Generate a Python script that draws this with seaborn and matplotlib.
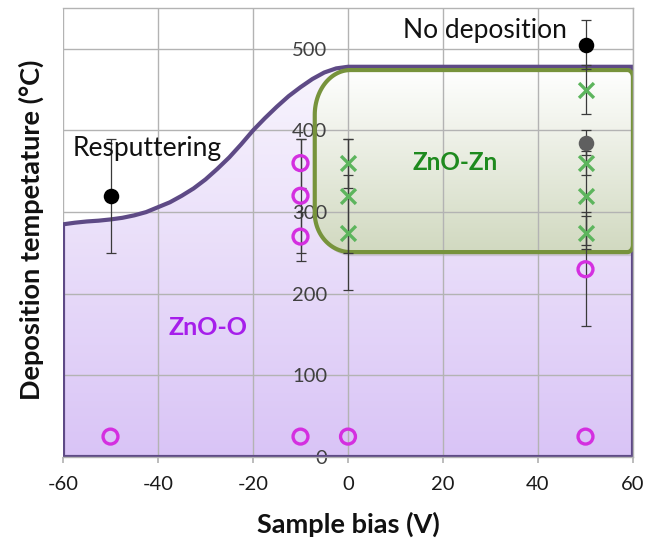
import numpy as np
import matplotlib
matplotlib.use("Agg")
import matplotlib.pyplot as plt
import seaborn as sns
from matplotlib.path import Path
from matplotlib.patches import PathPatch
from matplotlib.colors import LinearSegmentedColormap

# ── Data ─────────────────────────────────────────────────────────────
x_ticks = [-60, -40, -20, 0, 20, 40, 60]
y_ticks = [0, 100, 200, 300, 400, 500]

# upper boundary of the ZnO-O region
curve_x = [-60, -57.5, -55, -52.5, -50, -47.5, -45, -42.5, -40, -37.5, -35,
           -32.5, -30, -27.5, -25, -22.5, -20, -17.5, -15, -12.5, -10, -7.5,
           -5, -2.5, 0, 60]
curve_y = [285, 287, 288.5, 289.5, 291, 293, 296, 300, 306, 312, 320,
           329, 340, 353, 367, 383, 400, 415, 429, 442, 453, 463,
           471, 476, 478, 478]

# ZnO-Zn box (left, right, bottom, top)
box_x = [-7, 60]
box_y = [251, 474]

# ZnO-O samples (open magenta circles)
circ_x = [-50, -10, 0, 50, -10, -10, -10, 50]
circ_y = [25, 25, 25, 25, 360, 320, 270, 230]

# ZnO-Zn samples (green crosses)
cross_x = [0, 0, 0, 50, 50, 50, 50]
cross_y = [360, 320, 275, 450, 360, 320, 275]

# resputtering / no deposition (black dots), grey dot
black_x = [-50, 50]
black_y = [320, 505]
grey_x = [50]
grey_y = [385]

# error bars
err_x = [-50, -10, -10, -10, 0, 0, 0, 50, 50, 50, 50, 50, 50, 50]
err_y = [320, 360, 320, 270, 360, 320, 275, 505, 450, 385, 360, 320, 275, 230]
err_e = [70, 30, 70, 30, 30, 70, 70, 30, 30, 15, 15, 60, 20, 70]

PURPLE = "#5E4A86"
OLIVE = "#77933C"
MAGENTA = "#D42FE0"
GREEN = "#5DB55D"
GRID = "#B3B3B3"

sns.set_theme(style="white")
plt.rcParams["font.family"] = ["Lato", "DejaVu Sans"]
plt.rcParams["axes.unicode_minus"] = False

fig = plt.figure(figsize=(6.49, 5.41), dpi=100)
ax = fig.add_axes([63 / 649, 84 / 541, 570 / 649, 449 / 541])

# ── ZnO-O region: gradient fill clipped to polygon ───────────────────
poly = [(-60, 0)] + list(zip(curve_x, curve_y)) + [(60, 0), (-60, 0)]
purple_patch = PathPatch(Path(poly, closed=True), facecolor="none",
                         edgecolor=PURPLE, lw=3, zorder=2, joinstyle="round")
ax.add_patch(purple_patch)
clip_p = PathPatch(Path(poly, closed=True), facecolor="none", edgecolor="none")
ax.add_patch(clip_p)
grad = np.linspace(0, 1, 256).reshape(-1, 1)
cm_p = LinearSegmentedColormap.from_list("p", ["#D9C4F6", "#F8F5FD"])
im = ax.imshow(grad, extent=[-60, 60, 0, 478], origin="lower", aspect="auto",
               cmap=cm_p, zorder=0.2)
im.set_clip_path(clip_p)


# ── ZnO-Zn rounded box ───────────────────────────────────────────────
def arc(cx, cy, rx, ry, a0, a1, n=30):
    t = np.linspace(np.radians(a0), np.radians(a1), n)
    return list(zip(cx + rx * np.cos(t), cy + ry * np.sin(t)))


x0, x1 = box_x
y0, y1 = box_y
rxl, ryt, ryb = 7.5, 55, 48
rxr, ryr = 1.2, 9
pts = []
pts += arc(x1 - rxr, y1 - ryr, rxr, ryr, 90, 0)
pts += arc(x1 - rxr, y0 + ryr, rxr, ryr, 0, -90)
pts += arc(x0 + rxl, y0 + ryb, rxl, ryb, 270, 180)
pts += arc(x0 + rxl, y1 - ryt, rxl, ryt, 180, 90)
pts.append(pts[0])
green_path = Path(pts, closed=True)

shadow = np.array(pts) + np.array([0.5, -5])
ax.add_patch(PathPatch(Path(shadow, closed=True), facecolor="#9A9A9A",
                       edgecolor="none", alpha=0.35, zorder=0.25))
clip_g = PathPatch(green_path, facecolor="none", edgecolor="none")
ax.add_patch(clip_g)
cm_g = LinearSegmentedColormap.from_list("g", ["#D1D9C0", "#FFFFFF"])
im2 = ax.imshow(grad, extent=[x0, x1, y0, y1], origin="lower", aspect="auto",
                cmap=cm_g, zorder=0.3)
im2.set_clip_path(clip_g)
ax.add_patch(PathPatch(green_path, facecolor="none", edgecolor=OLIVE, lw=3, zorder=2.1))

# ── error bars and markers ───────────────────────────────────────────
ax.errorbar(err_x, err_y, yerr=err_e, fmt="none", ecolor="#3A3A3A",
            elinewidth=0.9, capsize=3.5, capthick=0.9, zorder=3)

sns.scatterplot(x=circ_x, y=circ_y, marker="o", s=115, facecolor="none",
                edgecolor=MAGENTA, linewidth=2.4, ax=ax, zorder=4)
sns.scatterplot(x=cross_x, y=cross_y, marker="x", s=115, color=GREEN,
                linewidth=2.4, ax=ax, zorder=4)
sns.scatterplot(x=black_x, y=black_y, marker="o", s=125, color="black",
                edgecolor="black", linewidth=0, ax=ax, zorder=4)
sns.scatterplot(x=grey_x, y=grey_y, marker="o", s=125, color="#5F5F5F",
                edgecolor="#5F5F5F", linewidth=0, ax=ax, zorder=4)

# ── labels inside the plot ───────────────────────────────────────────
ax.text(-58, 378, "Resputtering", fontsize=19, color="#111111",
        ha="left", va="center", zorder=5)
ax.text(11.5, 522, "No deposition", fontsize=19, color="#111111",
        ha="left", va="center", zorder=5)
ax.text(22.5, 361, "ZnO-Zn", fontsize=17.5, fontweight="bold", color="#1E8A1E",
        ha="center", va="center", zorder=5)
ax.text(-29.5, 159, "ZnO-O", fontsize=18, fontweight="bold", color="#A61EEB",
        ha="center", va="center", zorder=5)

# ── axes ─────────────────────────────────────────────────────────────
ax.set_xlim(-60, 60)
ax.set_ylim(0, 550)
ax.set_xticks(x_ticks)
ax.set_yticks(y_ticks)
ax.set_axisbelow(True)
ax.grid(True, color=GRID, lw=1)

ax.spines["left"].set_position(("data", 0))
ax.spines["left"].set_visible(False)
for s in ["top", "right", "bottom"]:
    ax.spines[s].set_color(GRID)
    ax.spines[s].set_linewidth(1)

ax.tick_params(axis="x", direction="out", length=4, color=GRID, pad=9.5,
               labelsize=14.5, labelcolor="#1A1A1A", bottom=True)
ax.tick_params(axis="y", length=0, pad=15, labelsize=14.5, labelcolor="#404040")

ax.set_xlabel("Sample bias (V)", fontsize=19.5, fontweight="bold", color="#111111")
ax.set_ylabel("Deposition tempetature (°C)", fontsize=19.5, fontweight="bold",
              color="#111111")
ax.xaxis.set_label_coords(0.5, -0.122)
ax.yaxis.set_label_coords(-0.033, 0.505)

fig.savefig("out.png", dpi=100)
